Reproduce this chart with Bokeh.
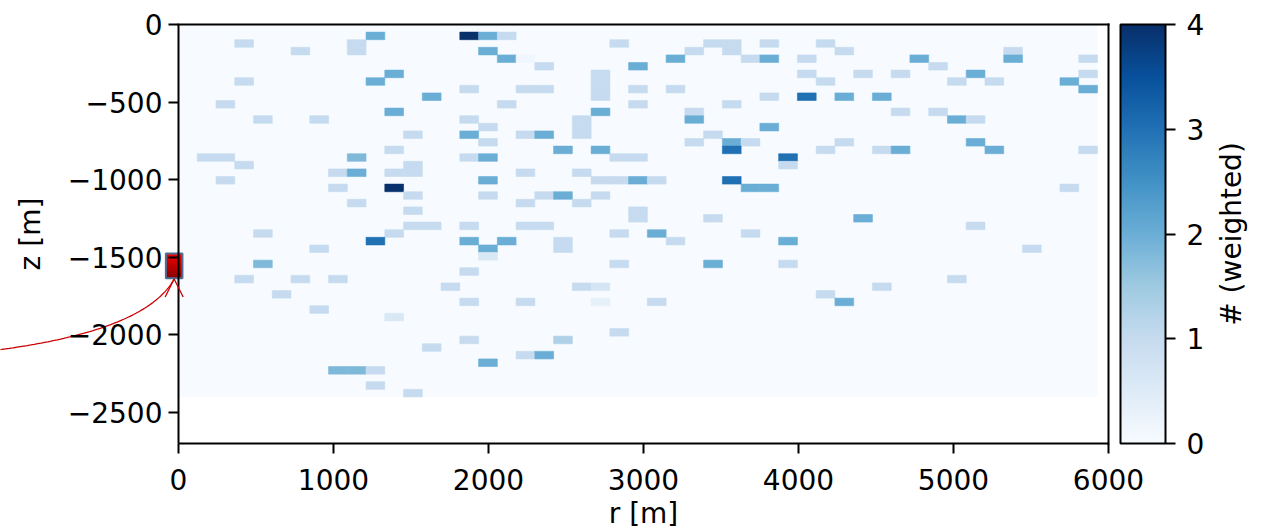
import math
import numpy as np
from bokeh.plotting import figure
from bokeh.models import (Range1d, ColumnDataSource, LinearColorMapper, ColorBar, FixedTicker,
                          LinearAxis, CustomJSTickFormatter, Arrow, OpenHead, Label)
from bokeh.embed import file_html
from bokeh.resources import INLINE

# ---------------- data ----------------
r_max = 5929.0          # outer edge of the r bins [m]
z_min = -2400.0         # lower edge of the z bins [m]
n_r_bins = 49
n_z_bins = 49

# non-empty cells: r-bin index (from r=0 outwards), z-bin index (from z=0 downwards), weighted count
r_bin = [10, 15, 16, 17,
         3, 9, 23, 28, 29, 31, 34,
         6, 9, 16, 27, 29, 35, 44,
         17, 18, 26, 30, 31, 33, 39, 44, 48,
         19, 24, 40,
         11, 22, 33, 36, 38, 42, 48,
         3, 10, 22, 34, 41, 43, 47,
         15, 18, 19, 22, 24, 26, 48,
         13, 22, 31, 33, 35, 37,
         2, 17, 24, 29,
         11, 22, 27, 38, 40,
         4, 7, 15, 21, 27, 41, 42,
         16, 21, 31,
         12, 15, 18, 19, 21, 28,
         16, 27, 29, 30, 35, 42,
         11, 20, 22, 29, 34, 37, 38, 43, 48,
         1, 2, 9, 15, 16, 23, 24, 32,
         3, 12, 32,
         8, 9, 11, 12, 18, 21,
         2, 16, 22, 23, 24, 25, 29,
         8, 11, 30, 31, 47,
         12, 16, 19, 20, 22,
         9, 18, 21,
         12, 24,
         24, 28, 36,
         12, 13, 15, 18, 19, 42,
         4, 11, 23, 25, 30,
         10, 15, 17, 20, 26, 32,
         7, 16, 20, 45,
         16,
         4, 23, 28, 32,
         15,
         3, 6, 8, 41,
         14, 21, 22, 37,
         5, 34,
         15, 18, 22, 25, 35,
         7,
         11,
         23,
         15, 20,
         13,
         18, 19,
         16,
         8, 9, 10,
         10,
         12]
z_bin = [1, 1, 1, 1,
         2, 2, 2, 2, 2, 2, 2,
         3, 3, 3, 3, 3, 3, 3,
         4, 4, 4, 4, 4, 4, 4, 4, 4,
         5, 5, 5,
         6, 6, 6, 6, 6, 6, 6,
         7, 7, 7, 7, 7, 7, 7,
         8, 8, 8, 8, 8, 8, 8,
         9, 9, 9, 9, 9, 9,
         10, 10, 10, 10,
         11, 11, 11, 11, 11,
         12, 12, 12, 12, 12, 12, 12,
         13, 13, 13,
         14, 14, 14, 14, 14, 14,
         15, 15, 15, 15, 15, 15,
         16, 16, 16, 16, 16, 16, 16, 16, 16,
         17, 17, 17, 17, 17, 17, 17, 17,
         18, 18, 18,
         19, 19, 19, 19, 19, 19,
         20, 20, 20, 20, 20, 20, 20,
         21, 21, 21, 21, 21,
         22, 22, 22, 22, 22,
         23, 23, 23,
         24, 24,
         25, 25, 25,
         26, 26, 26, 26, 26, 26,
         27, 27, 27, 27, 27,
         28, 28, 28, 28, 28, 28,
         29, 29, 29, 29,
         30,
         31, 31, 31, 31,
         32,
         33, 33, 33, 33,
         34, 34, 34, 34,
         35, 35,
         36, 36, 36, 36, 36,
         37,
         38,
         40,
         41, 41,
         42,
         43, 43,
         44,
         45, 45, 45,
         47,
         48]
weight = [2, 4, 2, 1,
          1, 1, 1, 1, 1, 1, 1,
          1, 1, 2, 1, 1, 1, 1,
          2, 0.15, 2, 1, 2, 1, 2, 2, 1,
          1, 2, 1,
          2, 1, 1, 1, 1, 2, 1,
          1, 2, 1, 1, 1, 1, 2,
          1, 1, 1, 1, 1, 1, 2,
          2, 1, 1, 3, 2, 2,
          1, 1, 1, 1,
          2, 2, 1, 1, 1,
          1, 1, 1, 1, 2, 2, 1,
          1, 1, 2,
          1, 2, 1, 2, 1, 1,
          1, 1, 2, 1, 1, 2,
          1, 2, 2, 3, 1, 1, 2, 2, 1,
          1, 1, 1.8, 1, 2, 1, 1, 3,
          1, 1, 1,
          1, 2, 1, 1, 1, 1,
          1, 2, 1, 1, 2, 1, 3,
          1, 4, 2, 2, 1,
          1, 1, 1, 2, 1,
          1, 1, 1,
          1, 1,
          1, 1, 2,
          1, 1, 1, 1, 1, 1,
          1, 1, 1, 2, 1,
          3, 2, 2, 1, 1, 2,
          1, 2, 1, 1,
          0.6,
          1.8, 1, 2, 1,
          1,
          1, 1, 1, 1,
          1, 1, 0.7, 1,
          1, 1,
          1, 1, 0.35, 1, 2,
          1,
          0.6,
          1,
          1, 1.3,
          1,
          1, 2,
          2,
          1.8, 1.8, 1,
          1,
          1]

cmap_low, cmap_high = 0.0, 4.0
cbar_ticks = [0, 1, 2, 3, 4]
x_ticks = [0, 1000, 2000, 3000, 4000, 5000, 6000]
y_ticks = [0, -500, -1000, -1500, -2000, -2500]
x_lim = (0.0, 6000.0)
z_lim = (-2700.0, 0.0)
x_label = "r [m]"
y_label = "z [m]"
cbar_label = "# (weighted)"

# well marker (annotation) and its pointer curve (quadratic Bezier control points)
well_r = [-28.0]
well_z = [-1555.0]
pointer_r = [-1215.0, -215.0, -28.0]
pointer_z = [-2103.0, -1981.0, -1640.0]

# ---------------- style / geometry ----------------
FONT = "DejaVu Sans"
FS = "28px"
W, H = 1264, 532
AX_LEFT_PX = 178             # canvas px of r = 0
AX_W_PX = 930                # px from r = 0 to r = 6000
AX_TOP_PX = 24               # canvas px of z = 0
AX_H_PX = 419                # px from z = 0 to z = -2700
CB_LEFT_PX = 1120
CB_W_PX = 45
CB_LABEL_X_PX = 1231
kx = AX_W_PX / (x_lim[1] - x_lim[0])
ky = AX_H_PX / (z_lim[1] - z_lim[0])

# matplotlib "Blues" colormap (ColorBrewer nodes, linear interpolation)
blues_nodes = ["#f7fbff", "#deebf7", "#c6dbef", "#9ecae1", "#6baed6",
               "#4292c6", "#2171b5", "#08519c", "#08306b"]
def _hex2rgb(h):
    return np.array([int(h[i:i + 2], 16) for i in (1, 3, 5)], dtype=float)
_node_rgb = np.array([_hex2rgb(c) for c in blues_nodes])
_pos = np.linspace(0, 1, len(blues_nodes))
_t = np.linspace(0, 1, 256)
blues256 = []
for tt in _t:
    rgb = [np.interp(tt, _pos, _node_rgb[:, k]) for k in range(3)]
    blues256.append("#%02x%02x%02x" % tuple(int(round(v)) for v in rgb))

mapper = LinearColorMapper(palette=blues256, low=cmap_low, high=cmap_high)

# the plotting frame covers the whole canvas; axes are pinned at the data limits
p = figure(width=W, height=H,
           x_range=Range1d(x_lim[0] - AX_LEFT_PX / kx, x_lim[1] + (W - AX_LEFT_PX - AX_W_PX) / kx),
           y_range=Range1d(z_lim[0] - (H - AX_TOP_PX - AX_H_PX) / ky, z_lim[1] + AX_TOP_PX / ky),
           x_axis_location=None, y_axis_location=None,
           min_border_left=0, min_border_right=0, min_border_top=0, min_border_bottom=0,
           output_backend="svg", toolbar_location=None)
p.outline_line_color = None
p.background_fill_color = "white"
p.border_fill_color = "white"
for g in p.grid:
    g.visible = False

# histogram: empty background then the non-empty cells
r_edges = np.linspace(0.0, r_max, n_r_bins + 1)
z_edges = np.linspace(0.0, z_min, n_z_bins + 1)
p.quad(left=[r_edges[0]], right=[r_edges[-1]], top=[z_edges[0]], bottom=[z_edges[-1]],
       fill_color=blues256[0], line_color=None)
rb = np.array(r_bin)
zb = np.array(z_bin)
src = ColumnDataSource(dict(left=r_edges[rb], right=r_edges[rb + 1],
                            top=z_edges[zb], bottom=z_edges[zb + 1], w=weight))
p.quad(left="left", right="right", top="top", bottom="bottom", source=src,
       fill_color={"field": "w", "transform": mapper},
       line_color={"field": "w", "transform": mapper}, line_width=0.6)

# top and right spines
p.segment(x0=[x_lim[0], x_lim[1]], y0=[z_lim[1], z_lim[0]],
          x1=[x_lim[1], x_lim[1]], y1=[z_lim[1], z_lim[1]],
          line_color="black", line_width=2, line_cap="square")

fmt = CustomJSTickFormatter(code="return tick < 0 ? '\\u2212' + String(-tick) : String(tick);")

xaxis = LinearAxis(bounds=x_lim, fixed_location=z_lim[0], ticker=FixedTicker(ticks=x_ticks),
                   formatter=fmt, axis_label=x_label)
yaxis = LinearAxis(bounds=z_lim, fixed_location=x_lim[0], ticker=FixedTicker(ticks=y_ticks),
                   formatter=fmt, axis_label=y_label)
for ax in (xaxis, yaxis):
    ax.axis_line_width = 2
    ax.axis_line_color = "black"
    ax.major_tick_line_width = 2
    ax.major_tick_line_color = "black"
    ax.major_tick_out = 10
    ax.major_tick_in = 0
    ax.minor_tick_line_color = None
    ax.major_label_text_font = FONT
    ax.major_label_text_font_size = FS
    ax.major_label_text_color = "black"
    ax.axis_label_text_font = FONT
    ax.axis_label_text_font_size = FS
    ax.axis_label_text_font_style = "normal"
    ax.axis_label_text_color = "black"
xaxis.major_label_standoff = 15
xaxis.axis_label_standoff = 4
yaxis.major_label_standoff = 6
yaxis.axis_label_standoff = 18
p.add_layout(xaxis, "below")
p.add_layout(yaxis, "left")

# well marker with a red gradient
m_half_r, m_half_z = 53.5, 80.0
n_band = 12
band_cols = []
c0, c1 = np.array([240, 0, 0]), np.array([140, 0, 0])
for k in range(n_band):
    c = c0 + (c1 - c0) * k / (n_band - 1)
    band_cols.append("#%02x%02x%02x" % tuple(int(v) for v in c))
for (mr, mz) in zip(well_r, well_z):
    top = mz + m_half_z
    h = 2 * m_half_z / n_band
    p.quad(left=[mr - m_half_r] * n_band, right=[mr + m_half_r] * n_band,
           top=[top - k * h for k in range(n_band)],
           bottom=[mz - m_half_z] * n_band,
           fill_color=band_cols, line_color=None)
    p.quad(left=[mr - m_half_r], right=[mr + m_half_r], top=[mz + m_half_z], bottom=[mz - m_half_z],
           fill_alpha=0, line_color="#4f6f96", line_width=2)

# curved pointer to the marker
tt = np.linspace(0, 1, 80)
P = np.array([pointer_r, pointer_z])
curve = ((1 - tt) ** 2)[None, :] * P[:, [0]] + (2 * (1 - tt) * tt)[None, :] * P[:, [1]] + (tt ** 2)[None, :] * P[:, [2]]
p.line(curve[0], curve[1], line_color="#cc0000", line_width=1.3)
p.add_layout(Arrow(end=OpenHead(size=18, line_color="#cc0000", line_width=1.3),
                   x_start=pointer_r[2], y_start=pointer_z[2] - 80,
                   x_end=pointer_r[2], y_end=pointer_z[2], line_alpha=0))

# colour bar (screen position measured from the bottom-left of the canvas)
cb = ColorBar(color_mapper=mapper, ticker=FixedTicker(ticks=cbar_ticks),
              width=CB_W_PX, height=AX_H_PX, location=(CB_LEFT_PX, H - AX_TOP_PX - AX_H_PX),
              margin=0, padding=0,
              bar_line_color="black", bar_line_width=2,
              major_tick_out=10, major_tick_in=0, major_tick_line_color="black",
              major_tick_line_width=2, minor_tick_line_color=None, label_standoff=11,
              major_label_text_font=FONT, major_label_text_font_size=FS,
              major_label_text_color="black",
              background_fill_color=None, border_line_color=None)
p.add_layout(cb)

p.add_layout(Label(x=x_lim[1] + (CB_LABEL_X_PX - AX_LEFT_PX - AX_W_PX) / kx,
                   y=(z_lim[0] + z_lim[1]) / 2, text=cbar_label, angle=math.pi / 2,
                   text_align="center", text_baseline="middle",
                   text_font=FONT, text_font_size=FS, text_color="black"))

open("out.html", "w").write(file_html(p, INLINE))
